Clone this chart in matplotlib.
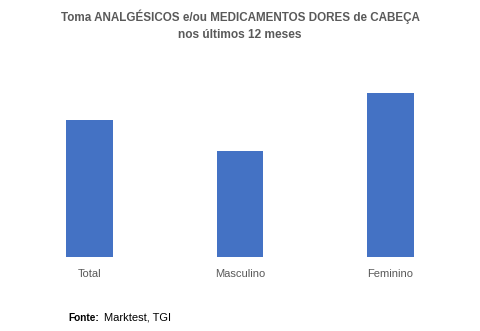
import matplotlib.pyplot as plt

categories = ['Total', 'Masculino', 'Feminino']
values = [46.7, 36.1, 56.0]

plt.rcParams['font.family'] = ['Liberation Sans', 'DejaVu Sans']

fig = plt.figure(figsize=(4.8, 3.31), dpi=100)
ax = fig.add_axes([0.0297, 0.2245, 0.9406, 0.534])

ax.bar(range(len(categories)), values, width=0.31, color='#4472C4')
ax.set_xlim(-0.5, 2.5)
ax.set_ylim(0, 60.34)
ax.set_xticks(range(len(categories)))
ax.set_xticklabels(categories, fontsize=8, color='#595959')
ax.tick_params(axis='x', length=0, pad=9)
ax.set_yticks([])
for s in ax.spines.values():
    s.set_visible(False)

fig.text(0.5, 1 - 17 / 331, 'Toma ANALGÉSICOS e/ou MEDICAMENTOS DORES de CABEÇA',
         ha='center', va='center', fontsize=8.4, fontweight='bold', color='#595959')
fig.text(0.5, 1 - 35 / 331, 'nos últimos 12 meses',
         ha='center', va='center', fontsize=8.6, fontweight='bold', color='#595959')

fig.text(68 / 480, 1 - 321 / 331, 'Fonte:', ha='left', va='baseline',
         fontsize=7.3, fontweight='bold', color='black')
fig.text(104 / 480, 1 - 321 / 331, 'Marktest, TGI', ha='left', va='baseline',
         fontsize=8, color='black')

fig.savefig('out.png', dpi=100)
